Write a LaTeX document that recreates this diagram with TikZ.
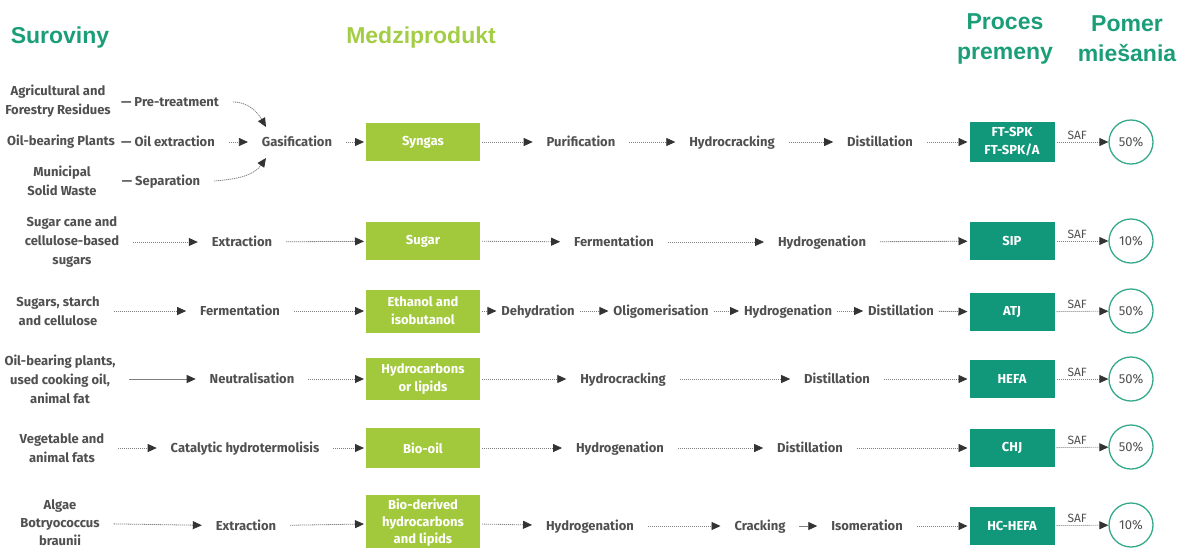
\documentclass[tikz,border=0pt]{standalone}
\usepackage{fontspec}
\setmainfont{Fira Sans}
\newfontfamily\headfont{Liberation Sans}
\usetikzlibrary{arrows.meta,positioning}
\definecolor{headteal}{HTML}{1B9E78}
\definecolor{headlime}{HTML}{A3CD45}
\definecolor{limebox}{HTML}{A2C93C}
\definecolor{tealbox}{HTML}{11977A}
\definecolor{tealring}{HTML}{34A98B}
\definecolor{txtgray}{HTML}{505050}
\tikzset{
  src/.style={
    align=center,
    font=\bfseries\fontsize{13}{19}\selectfont,
    text=txtgray,
    inner sep=2pt,
    outer xsep=12pt
  },
  stage/.style={
    font=\bfseries\fontsize{13}{19}\selectfont,
    text=txtgray,
    text height=11pt,
    text depth=2pt,
    inner sep=2pt,
    outer xsep=12pt
  },
  inter/.style={
    fill=limebox,
    text=white,
    align=center,
    minimum width=114pt,
    minimum height=38pt,
    inner sep=1pt,
    outer sep=2pt,
    font=\bfseries\fontsize{13}{18}\selectfont
  },
  proc/.style={
    fill=tealbox,
    text=white,
    align=center,
    minimum width=85pt,
    minimum height=38pt,
    inner sep=1pt,
    outer sep=2pt,
    font=\bfseries\fontsize{13}{18}\selectfont
  },
  ratio/.style={
    shape=circle,
    draw=tealring,
    line width=1.3pt,
    minimum size=44pt,
    inner sep=0pt,
    text=txtgray,
    font=\fontsize{13}{14}\selectfont
  },
  saf/.style={
    font=\fontsize{12}{12}\selectfont,
    text=txtgray,
    inner sep=2pt
  },
  head/.style={
    align=center,
    font=\headfont\bfseries\fontsize{23}{30}\selectfont
  },
  flow/.style={
    draw=gray,
    line width=0.8pt,
    dash pattern=on 1.2pt off 0.8pt,
    -{Triangle[length=9pt,width=8pt,color=black!80]}
  }
}

\begin{document}
\begin{tikzpicture}[x=1pt,y=-1pt]
    \useasboundingbox (0,0) rectangle (1180,547);
    \def\xi{423}
    \def\xp{1012}
        \node[head, text=headteal] (hsur) at (60,38) {Suroviny};
        \node[head, text=headlime] (hmed) at (421,38) {Medziprodukt};
        \node[head, text=headteal] (hpro) at (1005,39) {Proces\\premeny};
        \node[head, text=headteal] (hpom) at (1127,39) {Pomer\\miešania};
        % row 1
        \node[src] (agri) at (58,101) {Agricultural and\\Forestry Residues};
        \node[src] (oilp) at (61,142) {Oil-bearing Plants};
        \node[src] (muni) at (62,181) {Municipal\\Solid Waste};
        \node[stage] (pre) at (170,102) {--- Pre-treatment};
        \node[stage] (oilx) at (168,142) {--- Oil extraction};
        \node[stage] (sep) at (161,181) {--- Separation};
        \node[stage] (gas) at (297,142) {Gasification};
        \coordinate (gin) at (266,127);
        \coordinate (gis) at (266,158);
        \draw[flow] (pre.east) to[out=0,in=120] (gin);
        \draw[flow] (oilx) -- (gas);
        \draw[flow] (sep.east) to[out=5,in=-125] (gis);
        \node[inter] (i1) at (\xi,142) {Syngas};
        \node[stage] (pur) at (581,142) {Purification};
        \node[stage] (hcr1) at (732,142) {Hydrocracking};
        \node[stage] (dis1) at (880,142) {Distillation};
        \node[proc, minimum height=40pt] (p1) at (\xp,142) {FT-SPK\\FT-SPK/A};
        \draw[flow] (gas) -- (i1);
        \draw[flow] (i1) -- (pur);
        \draw[flow] (pur) -- (hcr1);
        \draw[flow] (hcr1) -- (dis1);
        \draw[flow] (dis1) -- (p1);
        % row 2
        \node[src] (s2) at (72,242) {Sugar cane and\\cellulose-based\\sugars};
        \node[stage] (ext2) at (242,242) {Extraction};
        \node[inter] (i2) at (\xi,241) {Sugar};
        \node[stage] (fer2) at (614,242) {Fermentation};
        \node[stage] (hyd2) at (822,242) {Hydrogenation};
        \node[proc] (p2) at (\xp,241) {SIP};
        \draw[flow] (s2) -- (ext2);
        \draw[flow] (ext2) -- (i2);
        \draw[flow] (i2) -- (fer2);
        \draw[flow] (fer2) -- (hyd2);
        \draw[flow] (hyd2) -- (p2);
        % row 3
        \node[src] (s3) at (58,311) {Sugars, starch\\and cellulose};
        \node[stage] (fer3) at (240,311) {Fermentation};
        \node[inter, minimum height=43pt] (i3) at (\xi,311) {Ethanol and\\isobutanol};
        \node[stage, outer xsep=3pt] (deh3) at (538,311) {Dehydration};
        \node[stage, outer xsep=3pt] (oli3) at (661,311) {Oligomerisation};
        \node[stage, outer xsep=3pt] (hyd3) at (788,311) {Hydrogenation};
        \node[stage, outer xsep=3pt] (dis3) at (901,311) {Distillation};
        \node[proc] (p3) at (\xp,312) {ATJ};
        \draw[flow] (s3) -- (fer3);
        \draw[flow] (fer3) -- (i3);
        \draw[flow] (i3) -- (deh3);
        \draw[flow] (deh3) -- (oli3);
        \draw[flow] (oli3) -- (hyd3);
        \draw[flow] (hyd3) -- (dis3);
        \draw[flow] (dis3) -- (p3);
        % row 4
        \node[src] (s4) at (60,379) {Oil-bearing plants,\\used cooking oil,\\animal fat};
        \node[stage] (neu4) at (252,379) {Neutralisation};
        \node[inter, minimum height=42pt] (i4) at (\xi,379) {Hydrocarbons\\or lipids};
        \node[stage] (hcr4) at (623,379) {Hydrocracking};
        \node[stage] (dis4) at (837,379) {Distillation};
        \node[proc] (p4) at (\xp,379) {HEFA};
        \draw[flow] (s4) -- (neu4);
        \draw[flow] (neu4) -- (i4);
        \draw[flow] (i4) -- (hcr4);
        \draw[flow] (hcr4) -- (dis4);
        \draw[flow] (dis4) -- (p4);
        % row 5
        \node[src] (s5) at (62,448) {Vegetable and\\animal fats};
        \node[stage] (cat5) at (245,448) {Catalytic hydrotermolisis};
        \node[inter, minimum height=40pt] (i5) at (\xi,448) {Bio-oil};
        \node[stage] (hyd5) at (620,448) {Hydrogenation};
        \node[stage] (dis5) at (810,448) {Distillation};
        \node[proc] (p5) at (\xp,448) {CHJ};
        \draw[flow] (s5) -- (cat5);
        \draw[flow] (cat5) -- (i5);
        \draw[flow] (i5) -- (hyd5);
        \draw[flow] (hyd5) -- (dis5);
        \draw[flow] (dis5) -- (p5);
        % row 6
        \node[src, font=\bfseries\fontsize{13}{18}\selectfont] (s6) at (60,523) {Algae\\Botryococcus\\braunii};
        \node[stage] (ext6) at (246,526) {Extraction};
        \node[inter, minimum height=56pt, font=\bfseries\fontsize{13}{17}\selectfont] (i6) at (\xi,523) {Bio-derived\\hydrocarbons\\and lipids};
        \node[stage] (hyd6) at (590,526) {Hydrogenation};
        \node[stage] (cra6) at (760,526) {Cracking};
        \node[stage] (iso6) at (867,526) {Isomeration};
        \node[proc] (p6) at (\xp,526) {HC-HEFA};
        \draw[flow] (s6) -- (ext6);
        \draw[flow] (ext6) -- (i6);
        \draw[flow] (i6) -- (hyd6);
        \draw[flow] (hyd6) -- (cra6);
        \draw[flow] (cra6) -- (iso6);
        \draw[flow] (iso6) -- (p6);
        \foreach \n/\y/\p in {1/142/50, 2/241/10, 3/311/50, 4/379/50, 5/447/50, 6/525/10}{
        \node[ratio] (r\n) at (1131,\y) {\p\%};
        \draw[flow] (p\n) -- node[pos=0.4, above, saf] {SAF} (r\n);
        }
    \end{tikzpicture}
\end{document}
